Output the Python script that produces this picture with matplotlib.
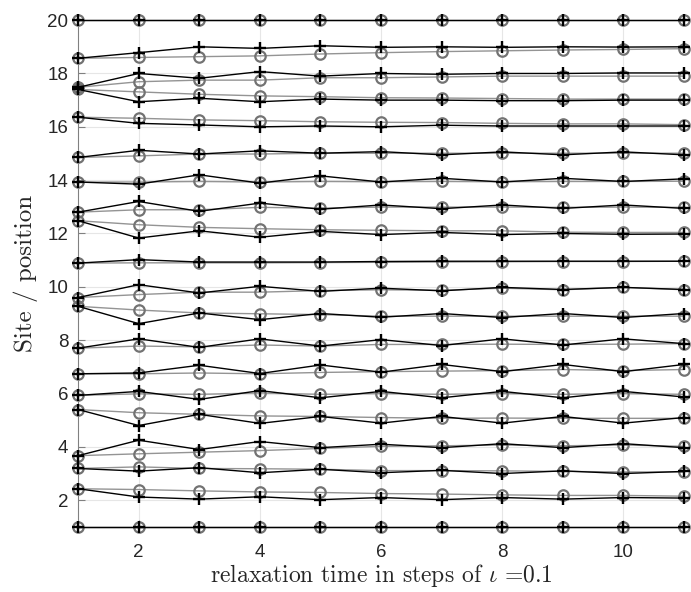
import matplotlib
matplotlib.use("Agg")
import matplotlib.pyplot as plt
import numpy as np

plt.rcParams['mathtext.fontset'] = 'cm'
plt.rcParams['axes.unicode_minus'] = False

# time steps
steps = list(range(1, 12))

# black '+' series, one row per site (top to bottom)
pos_plus = [
    [20] * 11,
    [18.57, 18.78, 19.0, 18.94, 19.04, 18.98, 19.0, 18.98, 19.0, 18.99, 19.0],
    [17.48, 18.0, 17.82, 18.07, 17.9, 18.0, 17.97, 18.0, 18.0, 18.02, 18.02],
    [17.4, 16.94, 17.07, 16.94, 17.04, 17.0, 17.0, 16.98, 16.98, 17.0, 17.0],
    [16.36, 16.13, 16.07, 16.0, 16.03, 16.0, 16.06, 16.03, 16.03, 16.03, 16.03],
    [14.85, 15.12, 14.98, 15.1, 15.01, 15.07, 14.95, 15.06, 14.95, 15.06, 14.95],
    [13.93, 13.85, 14.2, 13.89, 14.16, 13.93, 14.07, 13.93, 14.07, 13.95, 14.05],
    [12.8, 13.2, 12.83, 13.14, 12.91, 13.07, 12.93, 13.07, 12.94, 13.07, 12.94],
    [12.48, 11.83, 12.1, 11.86, 12.08, 11.96, 12.04, 11.96, 12.0, 11.97, 11.98],
    [10.89, 11.02, 10.93, 10.93, 10.93, 10.95, 10.96, 10.96, 10.96, 10.96, 10.96],
    [9.6, 10.08, 9.77, 10.02, 9.83, 9.95, 9.85, 9.98, 9.9, 9.98, 9.9],
    [9.27, 8.62, 9.02, 8.77, 9.0, 8.86, 9.0, 8.85, 9.0, 8.85, 9.0],
    [7.7, 8.05, 7.73, 8.05, 7.78, 8.02, 7.8, 8.05, 7.82, 8.05, 7.87],
    [6.74, 6.77, 7.06, 6.75, 7.07, 6.8, 7.09, 6.82, 7.09, 6.82, 7.09],
    [5.93, 6.08, 5.78, 6.11, 5.84, 6.08, 5.84, 6.08, 5.84, 6.08, 5.87],
    [5.4, 4.8, 5.22, 4.88, 5.14, 4.89, 5.14, 4.89, 5.14, 4.89, 5.1],
    [3.67, 4.25, 3.9, 4.2, 3.97, 4.1, 3.97, 4.12, 3.97, 4.12, 3.97],
    [3.19, 3.09, 3.22, 3.03, 3.16, 3.03, 3.12, 3.0, 3.1, 3.0, 3.08],
    [2.43, 2.12, 2.04, 2.13, 2.02, 2.1, 2.02, 2.1, 2.04, 2.1, 2.08],
    [1] * 11,
]

# gray 'o' series
pos_circ = [
    [20] * 11,
    [18.57, 18.6, 18.63, 18.66, 18.73, 18.78, 18.82, 18.85, 18.88, 18.9, 18.93],
    [17.48, 17.69, 17.75, 17.75, 17.84, 17.84, 17.87, 17.9, 17.9, 17.9, 17.9],
    [17.4, 17.31, 17.22, 17.16, 17.13, 17.09, 17.08, 17.06, 17.04, 17.04, 17.04],
    [16.36, 16.32, 16.26, 16.23, 16.19, 16.17, 16.16, 16.13, 16.11, 16.11, 16.08],
    [14.85, 14.91, 14.98, 14.98, 15.01, 15.01, 15.01, 15.01, 15.01, 15.01, 15.01],
    [13.93, 13.93, 13.95, 13.93, 13.95, 13.94, 13.95, 13.94, 13.95, 13.95, 13.96],
    [12.8, 12.89, 12.89, 12.98, 12.95, 12.99, 12.99, 12.99, 12.98, 12.99, 12.98],
    [12.48, 12.33, 12.23, 12.18, 12.14, 12.12, 12.1, 12.1, 12.05, 12.04, 12.04],
    [10.89, 10.9, 10.9, 10.9, 10.91, 10.92, 10.93, 10.94, 10.95, 10.95, 10.96],
    [9.6, 9.71, 9.8, 9.8, 9.86, 9.89, 9.87, 9.95, 9.89, 9.98, 9.89],
    [9.27, 9.13, 9.02, 8.99, 8.96, 8.9, 8.9, 8.9, 8.9, 8.9, 8.9],
    [7.7, 7.78, 7.75, 7.82, 7.78, 7.84, 7.84, 7.85, 7.84, 7.85, 7.87],
    [6.74, 6.74, 6.77, 6.74, 6.79, 6.82, 6.84, 6.86, 6.9, 6.86, 6.9],
    [5.93, 5.99, 5.97, 6.02, 5.97, 6.0, 5.97, 6.0, 5.97, 6.0, 5.97],
    [5.4, 5.28, 5.22, 5.16, 5.14, 5.1, 5.07, 5.08, 5.07, 5.07, 5.07],
    [3.67, 3.74, 3.8, 3.86, 3.94, 4.02, 4.04, 4.07, 4.04, 4.07, 4.02],
    [3.19, 3.25, 3.19, 3.18, 3.16, 3.11, 3.11, 3.1, 3.08, 3.06, 3.06],
    [2.43, 2.4, 2.35, 2.31, 2.29, 2.25, 2.23, 2.2, 2.18, 2.18, 2.15],
    [1] * 11,
]

xticks = [2, 4, 6, 8, 10]
yticks = [2, 4, 6, 8, 10, 12, 14, 16, 18, 20]

fig = plt.figure(figsize=(6.91, 5.92), dpi=100)
ax = fig.add_axes([0.113, 0.11, 0.877, 0.856])

for row in pos_circ:
    ax.plot(steps, row, color='0.58', lw=1.0, marker='o', ms=7.5,
            mfc='none', mec='0.45', mew=1.6, clip_on=False, zorder=2)
for row in pos_plus:
    ax.plot(steps, row, color='black', lw=1.0, marker='+', ms=8.5,
            mew=1.7, clip_on=False, zorder=3)

ax.set_xlim(1, 11)
ax.set_ylim(1, 20)
ax.set_xticks(xticks)
ax.set_yticks(yticks)
ax.grid(True, color='0.9', lw=0.8)
ax.set_axisbelow(True)
for s in ['top', 'right']:
    ax.spines[s].set_visible(False)
for s in ['left', 'bottom']:
    ax.spines[s].set_color('0.5')
ax.tick_params(direction='in', length=5, color='0.5', labelsize=13.5,
               labelcolor='0.15')
ax.tick_params(axis='x', pad=12)
ax.tick_params(axis='y', pad=7)
for lab in ax.get_xticklabels() + ax.get_yticklabels():
    lab.set_fontfamily('Liberation Sans')

ax.set_xlabel(r'relaxation time in steps of $\iota$ =0.1', family='cmr10',
              fontsize=17, color='0.15', labelpad=1)
ax.set_ylabel('Site / position', family='cmr10', fontsize=18, color='0.15',
              labelpad=7)

fig.savefig('out.png', dpi=100)
